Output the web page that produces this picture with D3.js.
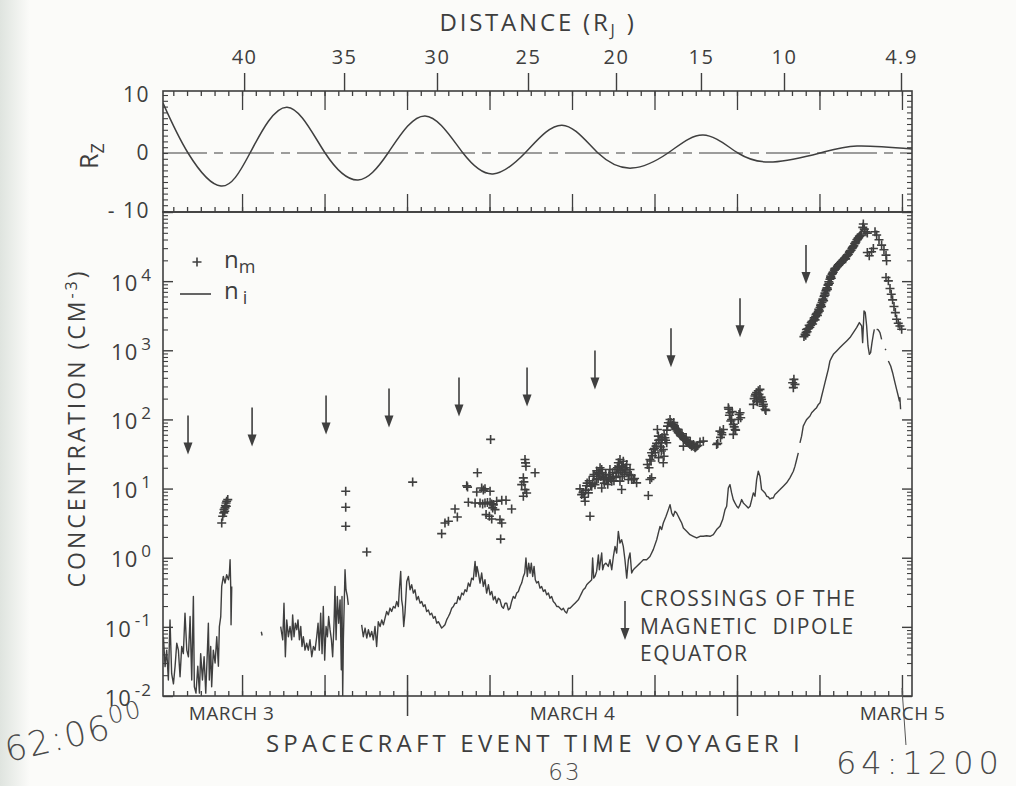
<!DOCTYPE html>
<html><head><meta charset="utf-8">
<script src="https://cdn.jsdelivr.net/npm/d3@7"></script>
<style>
body{margin:0;background:#fbfbf9;}
svg{display:block;}
text{font-family:'Open Sans','DejaVu Sans',sans-serif;fill:#3e3e3e;}
.hand{font-family:'DejaVu Sans',sans-serif;font-weight:200;fill:#4a4a4a;}
</style></head><body>
<svg id="c" width="1016" height="786"></svg>
<script>
// ---------- DATA (time in hours after 00:00 March 3 = day 62) ----------
const distanceLabels = ["40","35","30","25","20","15","10","4.9"];
const distanceHours  = [12.15,19.42,26.18,32.8,39.2,45.38,51.42,59.93];
const dayLabels      = ["MARCH 3","MARCH 4","MARCH 5"];
const dayLabelHours  = [11.2,36,60];
const rzTickValues   = [10,0,-10];
const rzTickLabels   = ["10","0","- 10"];
const logExponents   = [-2,-1,0,1,2,3,4];

const rzHours  = [6.25,8.07,10.47,12.58,15.27,18.04,20.44,22.62,25.31,28.07,30.25,32.58,35.27,37.89,40.36,42.98,45.53,48.07,50.62,54.04,56.73,60.73];
const rzValues = [8.6,0,-5.7,0,7.9,0,-4.65,0,6.4,0,-3.6,0,4.8,0,-2.6,0,3.1,0,-1.55,0,1.2,0.7];

const crossingHours     = [8.07,12.73,18.11,22.69,27.78,32.73,37.67,43.2,48.22,53.02];
const crossingTipValues = [31,40.6,60.7,76.6,110,154,272,568,1540,9060];

// n_i (line); null = data gap
const niSeries = [
[6.28,0.072],[6.40,0.0266],[6.52,0.046],[6.64,0.017],[6.76,0.126],[6.88,0.021],[7.01,0.015],[7.13,0.027],[7.25,0.058],[7.37,0.046],[7.49,0.019],[7.61,0.052],[7.73,0.041],[7.85,0.158],[7.98,0.046],[8.10,0.037],[8.22,0.141],[8.34,0.017],[8.46,0.275],[8.53,0.0136],[8.65,0.011],[8.78,0.027],[8.90,0.011],[8.99,0.041],[9.12,0.017],[9.24,0.037],[9.36,0.011],[9.48,0.046],[9.55,0.113],[9.62,0.017],[9.72,0.052],[9.79,0.0136],[9.91,0.046],[10.04,0.030],[10.16,0.072],[10.28,0.027],[10.35,0.101],[10.45,0.141],[10.52,0.385],[10.64,0.537],[10.76,0.43],[10.88,0.567],[11.01,0.48],[11.08,0.6],[11.13,0.935],[11.18,0.344],[11.20,0.107],[11.25,0.385],
null,
[13.40,0.085],[13.46,0.075],
null,
[14.81,0.101],[14.96,0.065],[15.05,0.22],[15.15,0.037],[15.25,0.126],[15.37,0.072],[15.49,0.101],[15.61,0.065],[15.68,0.149],[15.78,0.072],[15.88,0.113],[15.98,0.091],[16.07,0.126],[16.17,0.065],[16.27,0.101],[16.36,0.052],[16.46,0.072],[16.58,0.046],[16.70,0.058],[16.82,0.046],[16.94,0.065],[17.07,0.037],[17.19,0.052],[17.31,0.046],[17.43,0.072],[17.53,0.113],[17.62,0.046],[17.72,0.158],[17.82,0.041],[17.91,0.197],[18.01,0.033],[18.11,0.101],[18.21,0.072],[18.30,0.141],[18.40,0.091],[18.50,0.065],[18.59,0.037],[18.69,0.113],[18.76,0.385],[18.84,0.065],[18.93,0.275],[19.03,0.113],[19.13,0.246],[19.22,0.024],[19.27,0.275],[19.32,0.0101],[19.37,0.065],[19.49,0.67],[19.56,0.344],[19.66,0.275],[19.73,0.208],
null,
[20.70,0.107],[20.82,0.072],[20.95,0.096],[21.07,0.069],[21.19,0.091],[21.31,0.072],[21.43,0.086],[21.55,0.065],[21.67,0.101],[21.79,0.052],[21.91,0.119],[22.04,0.101],[22.16,0.126],[22.28,0.107],[22.40,0.134],[22.52,0.167],[22.64,0.149],[22.76,0.187],[22.88,0.167],[23.01,0.197],[23.13,0.187],[23.25,0.233],[23.37,0.197],[23.44,0.344],[23.54,0.634],[23.61,0.246],[23.68,0.197],[23.76,0.101],[23.85,0.158],
[23.98,0.454],[24.10,0.536],[24.22,0.344],[24.34,0.406],[24.46,0.308],[24.58,0.344],[24.70,0.246],[24.82,0.275],[24.95,0.22],[25.07,0.233],[25.19,0.197],[25.31,0.208],[25.43,0.167],[25.55,0.176],[25.67,0.149],[25.79,0.158],[25.92,0.133],[26.04,0.141],[26.16,0.113],[26.28,0.119],[26.40,0.107],[26.52,0.096],[26.64,0.101],[26.76,0.107],[26.88,0.126],[27.01,0.141],[27.13,0.158],[27.25,0.186],[27.37,0.197],[27.49,0.22],[27.61,0.22],[27.73,0.275],[27.85,0.246],[27.98,0.308],[28.10,0.29],[28.22,0.344],[28.34,0.325],[28.46,0.43],[28.58,0.384],[28.70,0.507],[28.82,0.48],[28.95,0.885],[29.02,0.536],[29.09,0.748],[29.19,0.6],[29.31,0.43],[29.43,0.6],[29.55,0.384],[29.67,0.48],[29.79,0.308],[29.92,0.406],[30.04,0.29],[30.16,0.325],[30.28,0.246],[30.40,0.275],[30.52,0.22],[30.64,0.26],[30.76,0.246],[30.89,0.197],[31.01,0.186],[31.13,0.22],[31.25,0.22],[31.37,0.176],[31.49,0.186],[31.61,0.233],[31.73,0.275],[31.85,0.26],[31.98,0.308],[32.10,0.325],[32.22,0.384],[32.34,0.43],[32.46,0.536],[32.56,0.6],[32.65,0.99],[32.75,0.536],[32.85,0.835],[32.95,0.6],[33.04,0.835],[33.14,0.536],[33.24,0.748],[33.33,0.48],[33.43,0.43],[33.55,0.454],[33.67,0.363],[33.79,0.384],[33.92,0.325],[34.04,0.344],[34.16,0.29],[34.28,0.308],[34.40,0.26],[34.52,0.275],[34.64,0.233],[34.76,0.22],[34.89,0.197],[35.01,0.197],[35.13,0.186],[35.25,0.176],[35.37,0.186],[35.49,0.167],[35.61,0.158],[35.73,0.186],[35.85,0.186],[35.98,0.197],[36.10,0.208],[36.22,0.22],[36.34,0.233],[36.46,0.246],[36.58,0.275],[36.70,0.308],[36.82,0.344],[36.95,0.363],[37.07,0.406],[37.19,0.43],[37.31,0.454],[37.43,0.48],[37.50,0.99],[37.58,0.507],[37.67,0.536],[37.79,0.634],[37.92,1.10],[37.99,0.67],[38.09,0.935],[38.16,1.17],[38.23,0.67],[38.33,0.79],[38.47,0.835],[38.64,0.748],[38.76,0.935],[38.89,0.67],[39.01,1.04],[39.13,1.46],[39.25,1.17],[39.37,2.40],[39.49,1.63],[39.61,1.82],[39.73,1.46],[39.85,0.935],[39.98,0.507],[40.10,0.935],[40.22,1.17],[40.34,0.6],[40.46,0.67],[40.58,0.708],[40.70,0.748],[40.95,0.835],[41.19,0.935],[41.43,0.935],[41.67,1.04],[41.91,1.31],[42.16,1.82],[42.40,2.84],
[42.52,2.55],[42.64,3.18],[42.84,3.97],[43.01,4.96],[43.13,5.86],[43.25,4.44],[43.37,3.97],[43.49,4.69],[43.61,4.44],[43.73,3.97],[43.85,3.56],[43.98,3.18],[44.10,2.69],[44.34,2.41],[44.58,2.15],[44.82,2.04],[45.07,1.93],[45.31,2.04],[45.55,2.04],[45.79,2.08],[46.04,2.04],[46.28,2.15],[46.52,2.55],[46.76,2.84],[46.96,3.56],[47.13,4.96],[47.25,5.55],[47.37,10.2],[47.49,11.4],[47.61,8.65],[47.73,6.93],[47.85,6.20],[47.98,5.55],[48.10,5.24],[48.22,5.86],[48.34,6.93],[48.46,6.2],[48.58,5.86],[48.70,5.55],[48.82,5.24],[48.95,5.55],[49.07,6.93],[49.19,8.65],[49.31,7.74],[49.43,13.5],[49.55,17.8],[49.67,15.1],[49.79,9.66],[49.92,9.14],[50.04,8.65],[50.16,7.74],[50.28,7.57],[50.40,7.08],[50.52,7.3],[50.64,7.3],[50.76,8.2],[50.88,8.65],[51.13,9.66],[51.37,10.8],[51.61,12.1],[51.85,14.3],[52.10,17.8],[52.22,21.1],[52.34,26.3],[52.46,32.9],
null,
[52.58,45.9],[52.70,57.3],[52.82,80],[52.94,89.5],[53.07,100],[53.19,106],[53.31,112],[53.43,125],[53.55,132],[53.67,140],[53.79,148],[53.92,165],[54.04,174],[54.16,218],[54.28,272],[54.40,340],[54.52,425],[54.64,531],[54.76,700],[54.88,783],[55.01,875],[55.25,978],[55.49,1094],[55.73,1222],[55.98,1366],[56.22,1527],[56.46,1803],[56.70,2130],[56.90,2518],[57.07,2254],[57.14,1291],[57.24,3715],[57.33,3516],[57.43,2254],[57.53,1156],[57.63,875],[57.72,925],[57.82,1291],[57.92,1706],[57.99,2014],
null,
[58.16,2014],[58.28,1970],[58.40,1803],[58.52,1442],
null,
[58.77,1050],[58.84,1010],
null,
[59.01,700],[59.18,593],[59.32,474],[59.49,340],[59.61,272],[59.73,218],[59.81,185],[59.85,206],[59.90,140]
];

// n_m (crosses)
const nmSeries = [
[10.52,3.18],[10.59,3.98],[10.67,4.45],[10.69,4.97],[10.74,4.7],[10.76,5.25],[10.79,5.67],[10.84,6.2],[10.86,5.55],[10.88,6.56],[10.96,6.93],
[19.54,9.16],[19.54,5.37],[19.54,2.85],[21.07,1.21],[24.41,12.4],
[26.52,2.23],[26.76,3.18],[27.01,3.36],[27.49,5.07],[27.66,3.88],[28.34,11.0],[28.46,6.34],[28.95,6.2],[29.12,16.9],[29.07,8.93],[29.31,6.2],[29.43,10.2],[29.67,9.9],[29.67,6.2],[29.75,4.2],[29.99,3.97],[30.04,9.15],[30.04,6.34],[30.16,3.63],[30.23,5.25],[30.28,5.86],[30.40,4.96],[30.52,6.55],[30.76,3.55],[30.81,1.86],[30.89,6.78],[30.89,3.18],[31.20,6.78],[31.61,5.07],[30.08,51.4],[29.5,6.0],[29.85,6.3],[30.15,6.0],[29.55,9.5],[28.4,10.5],
[32.58,26.3],[32.65,21.0],[33.31,16.9],[32.46,14.3],[32.34,11.4],[32.58,9.66],[32.70,8.65],[32.46,7.74],[32.62,23.5],[32.5,12.5],
[36.58,9.9],[36.70,8.18],[36.95,6.56],[37.31,3.97],[37.19,8.67],[37.43,10.8],[37.55,15.1],[37.67,11.4],[37.79,13.5],[37.92,16.9],[38.04,20.0],[38.16,18.9],[38.28,13.5],[38.40,14.3],[38.52,13.5],[38.64,13.5],[38.76,18.9],[38.89,12.8],[39.01,15.1],[39.13,18.9],[39.25,16.9],[39.37,23.6],[39.49,26.3],[39.61,21.1],[39.73,24.9],[39.86,18.9],[39.98,22.3],[40.10,13.5],[39.49,12.8],[39.61,9.68],[40.22,18.9],[40.34,13.5],[40.46,13.5],[40.70,12.1],[38.16,10.2],
[36.8,8.8],[36.9,7.5],[37.0,9.5],[37.05,11],[37.1,12],[37.25,13],[37.35,11],[37.5,12],
[37.6,16],[37.8,18],[37.9,14],[38.0,16.5],[38.1,15],[38.2,17],[38.35,12],[38.45,16],[38.6,11.5],[38.7,16],[38.8,14],[38.95,17],[39.05,13],[39.2,14.5],[39.3,20],[39.4,17],[39.45,21],[39.55,18],[39.65,15],[39.7,20],[39.8,16],[39.9,20],[40.0,17],[40.15,16],[40.3,15.5],[40.55,14],
[41.67,13.5],[41.79,14.3],[41.55,7.93],[41.48,22.3],[41.67,26.3],[41.79,32.9],[41.92,36.8],[42.11,41.1],[42.28,57.4],[42.21,71.6],[42.40,51.3],[42.52,45.9],[42.64,36.8],[42.76,54.3],[42.89,45.9],[42.64,23.6],[42.69,29.4],
[41.6,20],[41.75,25],[41.85,30],[42.0,38],[42.05,33],[42.15,45],[42.3,50],[42.45,40],[42.55,55],[42.7,60],[42.8,50],[42.9,70],[42.95,80],[42.5,35],[42.3,28],
[43.01,89.5],[43.13,100],[43.37,84.7],[43.49,75.8],[43.61,71.6],[43.73,64.1],[43.86,60.7],[43.98,57.4],[44.10,54.3],[44.22,51.3],[44.34,48.5],[44.46,45.9],[44.58,43.4],[44.70,41.1],[44.82,43.4],[44.95,38.9],[45.07,41.1],[45.31,47.0],[45.55,48.5],[44.10,41.1],
[43.2,90],[43.3,82],[43.45,80],[43.55,72],[43.65,68],[43.8,64],[43.9,58],[44.05,56],[44.15,52],[44.28,50],[44.4,47],[44.52,45],[44.65,43],[44.75,42],[44.88,40.5],[45.0,40],[45.15,42],[43.4,90],[43.7,72],[44.0,62],[44.3,55],[44.6,48],
[46.52,43.4],[46.76,67.8],[47.01,71.6],[46.89,64.1],[46.6,45],[46.8,55],[46.9,60],
[47.37,148],[47.49,125],[47.61,100],[47.73,84.7],[47.86,71.6],[47.73,60.7],[48.22,125],[48.10,100],[48.27,106],[47.4,140],[47.45,115],[47.55,95],[47.65,130],[47.8,78],[47.9,70],[48.15,118],
[49.19,165],[49.43,244],[49.67,272],[49.79,195],[49.92,165],[50.04,140],[49.43,185],[49.67,195],[49.31,218],[49.25,200],[49.35,230],[49.5,180],[49.55,260],[49.6,230],[49.75,210],[49.85,180],[49.9,155],[50.1,135],
[52.14,380],[52.22,321],[52.10,288],[52.05,340],
[52.87,1577],[53.02,1803],[53.19,2061],[53.36,2301],[53.55,2661],[53.72,3070],[53.89,3508],[54.04,4150],[54.18,4900],[54.33,5984],[54.47,7228],[54.62,8750],[54.76,10670],[54.91,12610],[55.08,14420],[55.30,16300],[55.52,18200],[55.73,20140],[55.95,22750],[56.17,26000],[56.36,29700],[56.56,34750],[56.73,39700],[56.90,44360],[57.04,47970],
[52.95,1700],[53.05,2000],[53.1,1850],[53.25,2300],[53.3,2150],[53.45,2600],[53.5,2400],[53.62,2950],[53.68,2750],[53.8,3400],[53.85,3200],[53.95,3900],[54.0,3700],[54.1,4600],[54.15,4300],[54.25,5500],[54.3,5200],[54.4,6700],[54.42,6300],[54.55,8000],[54.58,7600],[54.68,9800],[54.72,9300],[54.82,11800],[54.86,11000],[55.0,13500],[55.12,15200],[55.2,15500],[55.4,17000],[55.45,17800],[55.6,19000],[55.65,19500],[55.85,21500],[55.9,21000],[56.05,24000],[56.1,24500],[56.25,27500],[56.3,28000],[56.45,31500],[56.5,32500],[56.65,37000],[56.8,41500],[56.85,42500],[56.98,46000],
[53.0,1650],[53.15,2050],[53.4,2500],[53.6,2800],[53.75,3300],[53.92,3650],[54.08,4400],[54.22,5200],[54.36,6200],[54.5,7600],[54.65,9000],[54.8,11200],[54.95,13000],[55.15,15000],[55.35,16800],[55.55,18600],[55.8,20800],[56.0,23500],[56.2,26800],[56.4,30500],[56.6,35500],[56.75,40000],[56.95,45000],
[57.19,67000],[57.15,60000],[57.26,56600],[57.38,51800],[57.48,49550],
[58.04,51860],[58.16,46400],[58.33,39700],[58.52,33200],[58.69,28400],[58.84,23770],[58.88,19680],
[57.48,26000],[57.62,23300],[57.79,26600],[57.92,29700],
[58.84,11300],[59.01,10100],[59.13,7820],[59.22,6470],[59.32,5360],[59.42,4290],[59.52,3510],[59.61,2810],[59.73,2460],[59.85,2250],[59.98,2010]
];

// ---------- DRAWING ----------
const svg = d3.select("#c");
const ink = "#3f3f3f";

const defs = svg.append("defs");
const grad = defs.append("linearGradient").attr("id","edge").attr("x1",0).attr("x2",1);
grad.append("stop").attr("offset",0).attr("stop-color","#dfe4df");
grad.append("stop").attr("offset",1).attr("stop-color","#fbfbf9");
svg.append("rect").attr("width",1016).attr("height",786).attr("fill","#fbfbf9");
svg.append("rect").attr("width",30).attr("height",786).attr("fill","url(#edge)");

const L = 163, R = 912;
const x   = d3.scaleLinear().domain([6.25, 60.73]).range([L, R]);
const yRz = d3.scaleLinear().domain([-10, 10]).range([211, 95]);
const yN  = d3.scaleLog().domain([1e-2, 1e5]).range([696, 212]);
const rzTop = 91, rzBot = 212, nTop = 212, nBot = 696;

const hourly   = d3.range(7, 61);
const sixHour  = [12,18,24,30,36,42,48,54,60];
const midTicks = [12,18,30,36,42,54,60];
const dayTicks = [24,48];

function styleAxis(g, sw){
  g.select(".domain").remove();
  g.selectAll(".tick line").attr("stroke", ink).attr("stroke-width", sw || 1.3);
  g.selectAll(".tick text").attr("fill", ink).attr("font-family","'Open Sans',sans-serif");
}

defs.append("clipPath").attr("id","clipN").append("rect").attr("x",L).attr("y",nTop).attr("width",R-L).attr("height",nBot-nTop);
defs.append("clipPath").attr("id","clipR").append("rect").attr("x",L).attr("y",rzTop).attr("width",R-L).attr("height",rzBot-rzTop);

// ---- Rz panel ticks ----
svg.append("g").attr("transform",`translate(0,${rzTop})`).call(d3.axisBottom(x).tickValues(hourly).tickSize(5).tickFormat("")).call(styleAxis);
svg.append("g").attr("transform",`translate(0,${rzTop})`).call(d3.axisBottom(x).tickValues(sixHour).tickSize(19).tickFormat("")).call(styleAxis);
svg.append("g").attr("transform",`translate(0,${rzBot})`).call(d3.axisTop(x).tickValues(hourly).tickSize(5).tickFormat("")).call(styleAxis);
svg.append("g").attr("transform",`translate(0,${rzBot})`).call(d3.axisTop(x).tickValues(sixHour).tickSize(18).tickFormat("")).call(styleAxis);
const dAx = svg.append("g").attr("transform",`translate(0,${rzTop})`)
  .call(d3.axisTop(x).tickValues(distanceHours).tickSize(18).tickPadding(9).tickFormat((d,i)=>distanceLabels[i]))
  .call(styleAxis, 1.4);
dAx.selectAll(".tick text").attr("font-size",20).attr("letter-spacing",1.5);
const rzMinor = d3.range(-10, 11);
svg.append("g").attr("transform",`translate(${L},0)`).call(d3.axisRight(yRz).tickValues(rzMinor).tickSize(5).tickFormat("")).call(styleAxis,1.1);
svg.append("g").attr("transform",`translate(${R},0)`).call(d3.axisLeft(yRz).tickValues(rzMinor).tickSize(5).tickFormat("")).call(styleAxis,1.1);
const rzLab = svg.append("g").attr("transform",`translate(${L},0)`)
  .call(d3.axisLeft(yRz).tickValues(rzTickValues).tickSize(0).tickPadding(13).tickFormat((d,i)=>rzTickLabels[i]))
  .call(styleAxis);
rzLab.selectAll(".tick text").attr("font-size",21).attr("letter-spacing",1.5).attr("xml:space","preserve");

svg.append("line").attr("x1",L).attr("x2",R).attr("y1",yRz(0)).attr("y2",yRz(0))
  .attr("stroke",ink).attr("stroke-width",1.2).attr("stroke-dasharray","44,7,9,7");
const rzData = rzHours.map((h,i)=>[h, rzValues[i]]);
svg.append("path").datum(rzData).attr("clip-path","url(#clipR)")
  .attr("fill","none").attr("stroke",ink).attr("stroke-width",1.5)
  .attr("d", d3.line().x(d=>x(d[0])).y(d=>yRz(d[1])).curve(d3.curveNatural));

// ---- Concentration panel ticks ----
const minorLog = [];
logExponents.forEach(e => { for (let m = 2; m <= 9; m++) minorLog.push(m * Math.pow(10, e)); });
const majorLog = [1e-2,1e-1,1,1e1,1e2,1e3,1e4,1e5];
svg.append("g").attr("transform",`translate(${L},0)`).call(d3.axisRight(yN).tickValues(minorLog).tickSize(5).tickFormat("")).call(styleAxis,1.1);
svg.append("g").attr("transform",`translate(${L},0)`).call(d3.axisRight(yN).tickValues(majorLog).tickSize(10).tickFormat("")).call(styleAxis,1.4);
svg.append("g").attr("transform",`translate(${R},0)`).call(d3.axisLeft(yN).tickValues(minorLog).tickSize(5).tickFormat("")).call(styleAxis,1.1);
svg.append("g").attr("transform",`translate(${R},0)`).call(d3.axisLeft(yN).tickValues(majorLog).tickSize(10).tickFormat("")).call(styleAxis,1.4);
const logLab = svg.append("g").attr("transform",`translate(${L},0)`)
  .call(d3.axisLeft(yN).tickValues(logExponents.map(e=>Math.pow(10,e))).tickSize(0).tickPadding(11).tickFormat(""))
  .call(styleAxis);
logLab.selectAll(".tick text").each(function(d){
  const t = d3.select(this).attr("font-size",22).attr("dy","0.42em").attr("letter-spacing",1);
  t.append("tspan").text("10");
  t.append("tspan").attr("dx",3).attr("dy","-0.6em").attr("font-size",17).text(String(Math.round(Math.log10(d))));
});

svg.append("g").attr("transform",`translate(0,${nBot})`).call(d3.axisTop(x).tickValues(hourly).tickSize(5).tickFormat("")).call(styleAxis);
svg.append("g").attr("transform",`translate(0,${nBot})`).call(d3.axisTop(x).tickValues(midTicks).tickSize(21).tickFormat("")).call(styleAxis,1.4);
svg.append("g").attr("transform",`translate(0,${nBot})`).call(d3.axisTop(x).tickValues(dayTicks).tickSize(21).tickFormat("")).call(styleAxis,1.5);
svg.append("g").attr("transform",`translate(0,${nBot})`).call(d3.axisBottom(x).tickValues(dayTicks).tickSize(20).tickFormat("")).call(styleAxis,1.5);
const dayAx = svg.append("g").attr("transform",`translate(0,${nBot})`)
  .call(d3.axisBottom(x).tickValues(dayLabelHours).tickSize(0).tickPadding(11).tickFormat((d,i)=>dayLabels[i]))
  .call(styleAxis);
dayAx.selectAll(".tick text").attr("font-size",19).attr("letter-spacing",0.4);

// frames
svg.append("rect").attr("x",L).attr("y",rzTop).attr("width",R-L).attr("height",rzBot-rzTop).attr("fill","none").attr("stroke",ink).attr("stroke-width",1.6);
svg.append("rect").attr("x",L).attr("y",nTop).attr("width",R-L).attr("height",nBot-nTop).attr("fill","none").attr("stroke",ink).attr("stroke-width",1.6);

// n_i line
const dataG = svg.append("g").attr("clip-path","url(#clipN)");
dataG.append("path").datum(niSeries).attr("fill","none").attr("stroke",ink).attr("stroke-width",1.4).attr("stroke-linejoin","round")
  .attr("d", d3.line().defined(d=>d!==null).x(d=>x(d[0])).y(d=>yN(d[1])));
// n_m crosses
const plus = "M-4.5,0H4.5M0,-4.5V4.5";
dataG.selectAll("path.nm").data(nmSeries).join("path").attr("class","nm")
  .attr("transform",d=>`translate(${x(d[0])},${yN(d[1])})`)
  .attr("d",plus).attr("stroke",ink).attr("stroke-width",1.6).attr("fill","none");

function arrow(g, ax, tipY){
  g.append("line").attr("x1",ax).attr("x2",ax).attr("y1",tipY-39).attr("y2",tipY-9).attr("stroke",ink).attr("stroke-width",1.6);
  g.append("path").attr("d",`M${ax-4.5},${tipY-12}L${ax+4.5},${tipY-12}L${ax},${tipY}Z`).attr("fill",ink);
}
const arrG = svg.append("g");
crossingHours.forEach((h,i)=>arrow(arrG, x(h), yN(crossingTipValues[i])));

// legend
svg.append("path").attr("transform","translate(197,262)").attr("d",plus).attr("stroke",ink).attr("stroke-width",1.6);
const lg1 = svg.append("text").attr("x",224).attr("y",268).attr("font-size",24);
lg1.append("tspan").text("n");
lg1.append("tspan").attr("dy",5).attr("font-size",18).text("m");
svg.append("line").attr("x1",180).attr("x2",211).attr("y1",294).attr("y2",294).attr("stroke",ink).attr("stroke-width",1.6);
const lg2 = svg.append("text").attr("x",224).attr("y",299).attr("font-size",24);
lg2.append("tspan").text("n");
lg2.append("tspan").attr("dx",4).attr("dy",5).attr("font-size",18).text("i");

// crossings note
arrow(svg, 625, 640);
["CROSSINGS OF THE","MAGNETIC  DIPOLE","EQUATOR"].forEach((s,i)=>{
  svg.append("text").attr("x",640).attr("y",606+i*27.5).attr("font-size",21).attr("letter-spacing",1.6).attr("xml:space","preserve").text(s);
});

// titles
const tTop = svg.append("text").attr("x",538).attr("y",31).attr("text-anchor","middle").attr("font-size",24).attr("letter-spacing",2.8);
tTop.append("tspan").text("DISTANCE (R");
tTop.append("tspan").attr("dy",5).attr("font-size",16).text("J");
tTop.append("tspan").attr("dy",-5).text(" )");

const tRz = svg.append("text").attr("transform","translate(98,156) rotate(-90)").attr("text-anchor","middle").attr("font-size",25);
tRz.append("tspan").text("R");
tRz.append("tspan").attr("dy",6).attr("font-size",18).text("Z");

const tY = svg.append("text").attr("transform","translate(85,428) rotate(-90)").attr("text-anchor","middle").attr("font-size",23).attr("letter-spacing",3);
tY.append("tspan").text("CONCENTRATION (CM");
tY.append("tspan").attr("dy",-8).attr("font-size",16).text("-3");
tY.append("tspan").attr("dy",8).text(")");

svg.append("text").attr("x",535).attr("y",752).attr("text-anchor","middle").attr("font-size",24).attr("letter-spacing",4.2)
  .text("SPACECRAFT EVENT TIME VOYAGER I");

// handwritten notes
const h1 = svg.append("text").attr("class","hand").attr("transform","translate(8,762) rotate(-13)").attr("font-size",34).attr("letter-spacing",2);
h1.append("tspan").text("62:06");
h1.append("tspan").attr("dy",-14).attr("font-size",24).text("00");
svg.append("text").attr("class","hand").attr("x",565).attr("y",780).attr("text-anchor","middle").attr("font-size",23).attr("letter-spacing",2).text("63");
svg.append("text").attr("class","hand").attr("x",836).attr("y",774).attr("font-size",32).attr("letter-spacing",5).text("64:1200");
svg.append("line").attr("x1",x(60)).attr("x2",x(60)+4).attr("y1",nBot-8).attr("y2",745).attr("stroke","#555").attr("stroke-width",1);
</script></body></html>
